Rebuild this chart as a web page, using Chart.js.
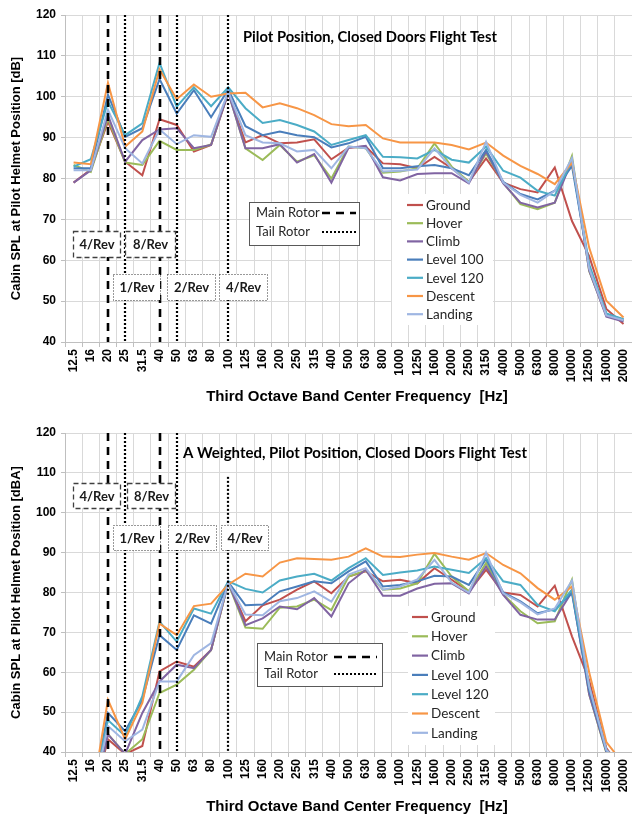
<!DOCTYPE html>
<html>
<head>
<meta charset="utf-8">
<script src="https://cdn.jsdelivr.net/npm/chart.js@4.4.1/dist/chart.umd.min.js"></script>
<style>
  html, body { margin: 0; padding: 0; background: #fff; overflow: hidden; width: 632px; height: 823px; }
  canvas { position: absolute; left: 0; }
  #flat { top: 0; }
  #aweighted { top: 412px; }
</style>
</head>
<body>
<canvas id="flat" width="640" height="412"></canvas>
<canvas id="aweighted" width="640" height="411"></canvas>
<script>
// Third octave band centre frequencies [Hz]
const bands = ['12.5','16','20','25','31.5','40','50','63','80','100','125','160','200','250','315','400','500','630','800','1000','1250','1600','2000','2500','3150','4000','5000','6300','8000','10000','12500','16000','20000'];

const seriesNames = ['Ground','Hover','Climb','Level 100','Level 120','Descent','Landing'];

// Cabin SPL at pilot helmet position [dB]
const groundSPL   = [79,82.2,93.9,84.1,80.8,94.5,93.1,86.6,88.2,101,88.8,90.6,88.6,88.8,89.6,84.7,87.5,87.8,83.7,83.5,82.5,85.3,82.5,79.2,84.9,79,77.4,76.6,82.7,69.6,61,48.1,44.4];
const hoverSPL    = [83.3,81.6,94.7,83.9,83.3,89.2,87,87,88.3,101,87.4,84.5,88.2,84.1,85.7,80,87.8,87.4,81.4,81.7,82.5,88.6,82.9,79.2,86.1,79,73.7,72.5,74.1,85.5,57.4,46.5,45.2];
const climbSPL    = [79,82,95.5,84.1,89.4,92,92.3,87.4,88.2,101,87.4,87.4,88.4,83.9,86,79,87.5,88,80.3,79.5,81.1,81.3,81.3,78.8,86.6,78.8,74.1,72.9,74.1,84.5,57.5,46.2,45];
const level100SPL = [82.5,82.5,100.5,90.2,92.3,104.3,95.9,101.6,95,101.8,92.8,90.6,91.5,90.6,90.1,87.6,88.6,90.2,82.5,82.5,83,83.3,82.5,80.8,87,79.2,76.2,74.9,77,83.1,58.5,46.8,45.5];
const level120SPL = [82.9,84.7,98.8,90.6,93.5,108.3,97.6,102.3,97.7,102.3,97.2,93.6,94.3,93.1,91.5,88.2,89.4,90.6,85.3,85.2,84.9,87,84.6,83.9,87.8,81.9,80.2,77,75.8,84.3,59,47,45.6];
const descentSPL  = [83.9,83.5,103.4,87.8,91.5,106.7,99.4,103,100,100.8,101,97.4,98.4,97.2,95.5,93.3,92.8,93.1,89.8,88.8,88.8,88.8,88.2,87.1,88.8,85.6,83.1,81.1,78.6,83.9,63.1,50.1,46];
const landingSPL  = [82,82,96.8,87.4,83.7,92,88.4,90.6,90.2,101.2,90.6,88.8,88.6,86.6,87,82.5,87.8,87.4,81.7,81.9,82.2,87.4,82.5,79,89,79,76,74.1,77,85,58,46.5,45.3];

// A-weighted cabin SPL at pilot helmet position [dBA]
const groundSPLA   = [20,26,43.2,39.5,41.5,60.2,62.7,61.4,65.6,82.5,72.8,76.8,78.2,80.7,82.8,79.8,84,85.3,82.8,83.2,82.3,86.1,83.2,80.3,85.7,80,79.4,76.5,81.7,69,58,41,35];
const hoverSPLA    = [20,25,44.5,39.5,43.2,54.8,56.9,60.6,65.6,82.3,71.2,70.9,76.2,76.5,78.2,75.6,84,85.5,80.7,81,82.3,89.7,84,80.3,87.4,79.5,75.3,72.3,72.8,83.2,54.5,39.8,36];
const climbSPLA    = [18,25,44.4,39.5,49.8,57.7,61.9,61,65.6,82.5,71.8,73.5,76.5,75.8,78.6,74,82.3,85.7,79.2,79.2,81,82.2,82.3,79.8,86.5,79.4,74.4,73.2,73.2,80.2,54.5,40,36];
const level100SPLA = [20,27,49.8,45.2,53.1,69.3,65.6,74.3,72.2,82.6,76.8,77,80.3,81.5,82.8,82.3,85.3,87.8,81.5,81.9,82.8,84.2,84,81.9,88.4,80,77.8,74.8,75.8,79.8,55.5,40.3,36.5];
const level120SPLA = [20,28,48,44,54,72.7,67.7,76,74.7,82.8,80.9,80,83,84,84.7,83,86.1,88.6,84.4,85,85.5,86.5,85.7,84.9,88.6,82.8,81.9,76.9,75.3,80.7,56.5,40.5,36.5];
const descentSPLA  = [21,27,53.1,43.2,52.3,72.2,69.3,76.6,77.2,82,84.7,84,87.5,88.6,88.4,88.2,89,91.1,89,88.9,89.5,89.9,89,88.2,89.9,86.9,84.8,81.1,78.2,81.5,60,42.5,37];
const landingSPLA  = [19,27,46.5,42.7,45.6,57.7,57.7,64.3,67.3,82.4,74.5,74.3,77.8,78.6,80.3,77.7,84.5,86.1,80.7,81.5,83.3,88.2,82.5,80,90,79.8,77.5,74.5,76,83,56.5,40.5,36];

const yTicks = [40,50,60,70,80,90,100,110,120];

// Rotor harmonic bands
const mainRotorBands = ['20','40'];
const mainRotorLabels = ['4/Rev','8/Rev'];
const tailRotorBands = ['25','50','100'];
const tailRotorLabels = ['1/Rev','2/Rev','4/Rev'];

const seriesColors = ['#C0504D','#9BBB59','#8064A2','#4A7EBB','#4BACC6','#F79646','#9FB6E2'];
const AXIS_FONT = '"Liberation Sans", Arial, sans-serif';
const NOTE_FONT = 'Lato, "Open Sans", sans-serif';

function fitFont(ctx, text, weight, family, width) {
  ctx.font = weight + ' 20px ' + family;
  const w = ctx.measureText(text).width;
  return weight + ' ' + (20 * width / w).toFixed(2) + 'px ' + family;
}

function strokeLine(ctx, x0, y0, x1, y1) {
  ctx.beginPath(); ctx.moveTo(x0, y0); ctx.lineTo(x1, y1); ctx.stroke();
}

const MAIN_DASH = [8, 6];
const TAIL_DOT = [2, 2];

const annotations = {
  id: 'annotations',
  afterDatasetsDraw(chart, args, o) {
    const ctx = chart.ctx;
    const xs = chart.scales.x, ys = chart.scales.y;
    const area = chart.chartArea;
    ctx.save();

    // rotor harmonic markers
    ctx.strokeStyle = '#000';
    ctx.lineCap = 'butt';
    ctx.lineWidth = 2.6;
    ctx.setLineDash(MAIN_DASH);
    mainRotorBands.forEach(b => {
      const px = Math.round(xs.getPixelForValue(bands.indexOf(b)));
      strokeLine(ctx, px, area.top, px, area.bottom);
    });
    ctx.lineWidth = 2.2;
    ctx.setLineDash(TAIL_DOT);
    tailRotorBands.forEach((b, k) => {
      const px = Math.round(xs.getPixelForValue(bands.indexOf(b)));
      strokeLine(ctx, px, ys.getPixelForValue(o.tailTop[k]), px, area.bottom);
    });

    // harmonic label boxes
    const box = (r, text, dash, lw, color) => {
      ctx.setLineDash([]);
      ctx.fillStyle = '#fff';
      ctx.fillRect(r[0], r[1], r[2], r[3]);
      ctx.setLineDash(dash);
      ctx.lineWidth = lw;
      ctx.strokeStyle = color;
      ctx.strokeRect(r[0] + 0.5, r[1] + 0.5, r[2], r[3]);
      ctx.setLineDash([]);
      ctx.fillStyle = '#1a1a1a';
      ctx.font = 'bold 13px ' + NOTE_FONT;
      ctx.textAlign = 'center';
      ctx.textBaseline = 'middle';
      ctx.fillText(text, r[0] + r[2] / 2 + 0.5, r[1] + r[3] / 2 + 1);
    };
    o.mainBoxes.forEach((r, k) => box(r, mainRotorLabels[k], [5, 3], 1.3, '#404040'));
    o.tailBoxes.forEach((r, k) => box(r, tailRotorLabels[k], [1, 2], 1, '#333'));

    // rotor legend
    const L = o.rotorLegend;
    ctx.setLineDash([]);
    ctx.fillStyle = '#fff';
    ctx.fillRect(L.box[0], L.box[1], L.box[2], L.box[3]);
    ctx.strokeStyle = '#595959';
    ctx.lineWidth = 1;
    ctx.strokeRect(L.box[0] + 0.5, L.box[1] + 0.5, L.box[2], L.box[3]);
    ctx.fillStyle = '#262626';
    ctx.font = '13px ' + NOTE_FONT;
    ctx.textAlign = 'left';
    ctx.textBaseline = 'middle';
    ctx.fillText('Main Rotor', L.tx, L.y0);
    ctx.fillText('Tail Rotor', L.tx, L.y1);
    ctx.strokeStyle = '#000';
    ctx.lineWidth = 2.6;
    ctx.setLineDash(MAIN_DASH);
    strokeLine(ctx, L.s0, L.y0, L.s1, L.y0);
    ctx.lineWidth = 2;
    ctx.setLineDash(TAIL_DOT);
    strokeLine(ctx, L.s0, L.y1, L.s1, L.y1);
    ctx.setLineDash([]);

    // series legend
    const S = o.seriesLegend;
    ctx.fillStyle = '#fff';
    ctx.fillRect(S.bg[0], S.bg[1], S.bg[2], S.bg[3]);
    ctx.font = '13.5px ' + NOTE_FONT;
    chart.data.datasets.forEach((ds, k) => {
      const yy = S.y0 + k * S.dy;
      ctx.strokeStyle = ds.borderColor;
      ctx.lineWidth = 2.2;
      strokeLine(ctx, S.x0, yy, S.x1, yy);
      ctx.fillStyle = '#262626';
      ctx.fillText(ds.label, S.tx, yy + 0.5);
    });

    // chart title
    ctx.fillStyle = '#000';
    ctx.font = fitFont(ctx, o.title, 'bold', NOTE_FONT, o.titleWidth);
    ctx.fillText(o.title, o.titleX, o.titleY);

    // axis titles
    ctx.font = 'bold 13px ' + AXIS_FONT;
    ctx.textAlign = 'center';
    ctx.save();
    ctx.translate(16, (area.top + area.bottom) / 2);
    ctx.rotate(-Math.PI / 2);
    ctx.fillText(o.yTitle, 0, 0);
    ctx.restore();
    ctx.font = 'bold 15px ' + AXIS_FONT;
    ctx.fillText('Third Octave Band Center Frequency  [Hz]', 357, area.bottom + 55);

    ctx.restore();
  }
};

function buildChart(id, seriesValues, xAxisHeight, padTop, notes) {
  const datasets = seriesNames.map((name, k) => ({
    label: name,
    data: seriesValues[k],
    borderColor: seriesColors[k],
    backgroundColor: seriesColors[k],
    borderWidth: 2,
    pointRadius: 0,
    tension: 0,
    fill: false,
    order: seriesNames.length - k
  }));
  return new Chart(document.getElementById(id), {
    type: 'line',
    data: { labels: bands, datasets },
    plugins: [annotations],
    options: {
      responsive: false,
      animation: false,
      events: [],
      layout: { padding: { top: padTop, right: 5, left: 0, bottom: 0 } },
      plugins: {
        legend: { display: false },
        tooltip: { enabled: false },
        annotations: notes
      },
      scales: {
        x: {
          type: 'category',
          offset: true,
          grid: { offset: true, color: '#D9D9D9', lineWidth: 1, tickLength: 5, tickColor: '#BFBFBF' },
          border: { color: '#BFBFBF' },
          ticks: {
            autoSkip: false, maxRotation: 90, minRotation: 90, padding: 2,
            color: '#000', font: { family: AXIS_FONT, size: 12, weight: 'bold' }
          },
          afterFit(s) { s.height = xAxisHeight; }
        },
        y: {
          min: 40, max: 120,
          afterBuildTicks(s) { s.ticks = yTicks.map(v => ({ value: v })); },
          grid: { color: '#D9D9D9', lineWidth: 1, tickLength: 4, tickColor: '#BFBFBF' },
          border: { color: '#BFBFBF' },
          ticks: { padding: 5, color: '#000', font: { family: AXIS_FONT, size: 12, weight: 'bold' } },
          afterFit(s) { s.width = 65; }
        }
      }
    }
  });
}

buildChart('flat',
  [groundSPL, hoverSPL, climbSPL, level100SPL, level120SPL, descentSPL, landingSPL],
  70, 15,
  {
    title: 'Pilot Position, Closed Doors Flight Test', titleX: 243, titleY: 37, titleWidth: 254,
    yTitle: 'Cabin SPL at Pilot Helmet Position [dB]',
    tailTop: [120, 120, 120],
    mainBoxes: [[73, 231, 47, 26], [125, 231, 50, 26]],
    tailBoxes: [[113, 274, 47, 26], [167, 274, 48, 26], [219, 274, 48, 26]],
    rotorLegend: { box: [249, 202, 110, 43], tx: 256, y0: 213, y1: 232, s0: 322, s1: 356 },
    seriesLegend: { bg: [392, 194, 101, 131], x0: 407, x1: 423, tx: 426, y0: 205, dy: 18.2 }
  });

buildChart('aweighted',
  [groundSPLA, hoverSPLA, climbSPLA, level100SPLA, level120SPLA, descentSPLA, landingSPLA],
  71, 21,
  {
    title: 'A Weighted, Pilot Position, Closed Doors Flight Test', titleX: 183, titleY: 41, titleWidth: 344,
    yTitle: 'Cabin SPL at Pilot Helmet Position [dBA]',
    tailTop: [120, 120, 109],
    mainBoxes: [[73, 71, 47, 25], [127, 71, 48, 25]],
    tailBoxes: [[113, 113, 47, 25], [168, 113, 48, 25], [221, 113, 47, 25]],
    rotorLegend: { box: [257, 231, 125, 43], tx: 264, y0: 245, y1: 262, s0: 334, s1: 377 },
    seriesLegend: { bg: [408, 194, 87, 139], x0: 412, x1: 428, tx: 431, y0: 205, dy: 19.3 }
  });
</script>
</body>
</html>
